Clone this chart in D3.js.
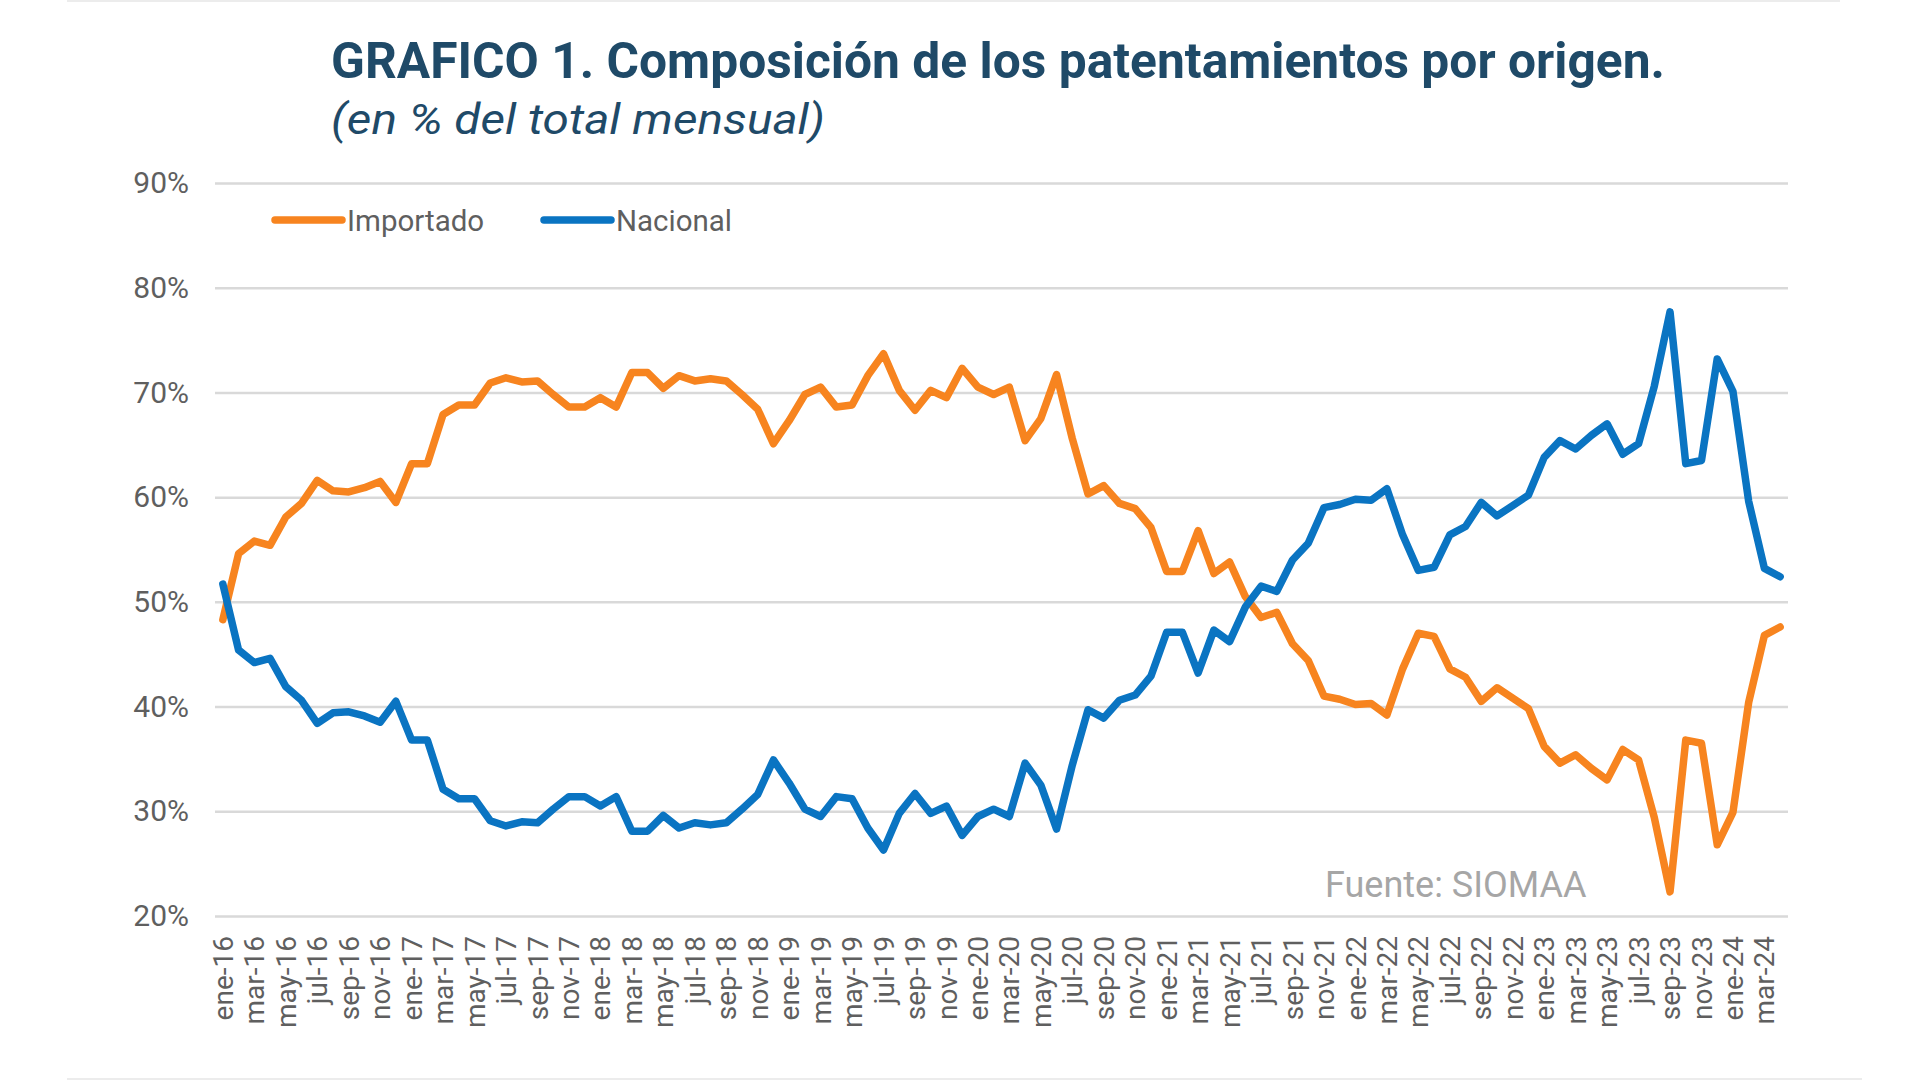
<!DOCTYPE html>
<html>
<head>
<meta charset="utf-8">
<script src="https://cdn.jsdelivr.net/npm/d3@7"></script>
<style>
  body { margin: 0; background: #fff; }
  svg { display: block; font-family: Roboto, "Noto Sans", sans-serif; }
</style>
</head>
<body>
<div id="chart"></div>
<script>
// meses ene-16 .. abr-24
const mesesNombre = ['ene','feb','mar','abr','may','jun','jul','ago','sep','oct','nov','dic'];
const anios = ['16','17','18','19','20','21','22','23','24'];
const meses = [];
anios.forEach(a => mesesNombre.forEach(m => meses.push(m + '-' + a)));
meses.splice(100); // hasta abr-24

const importado = [
  48.3, 54.6, 55.8, 55.4, 58.1, 59.4, 61.6, 60.6, 60.5, 60.9, 61.5, 59.5,
  63.2, 63.2, 67.9, 68.8, 68.8, 70.9, 71.4, 71.0, 71.1, 69.8, 68.6, 68.6,
  69.5, 68.6, 71.9, 71.9, 70.4, 71.6, 71.1, 71.3, 71.1, 69.8, 68.4, 65.1,
  67.3, 69.8, 70.5, 68.6, 68.8, 71.6, 73.7, 70.2, 68.3, 70.2, 69.5, 72.3,
  70.5, 69.8, 70.5, 65.4, 67.5, 71.7, 65.6, 60.3, 61.1, 59.4, 58.9, 57.1,
  52.9, 52.9, 56.8, 52.7, 53.8, 50.5, 48.5, 49.0, 46.0, 44.4, 41.0, 40.7,
  40.2, 40.3, 39.2, 43.6, 47.0, 46.7, 43.6, 42.8, 40.5, 41.8, 40.8, 39.8,
  36.2, 34.6, 35.4, 34.1, 33.0, 35.9, 34.9, 29.4, 22.3, 36.8, 36.5, 26.8,
  29.9, 40.4, 46.8, 47.6
];

const nacional = [
  51.7, 45.4, 44.2, 44.6, 41.9, 40.6, 38.4, 39.4, 39.5, 39.1, 38.5, 40.5,
  36.8, 36.8, 32.1, 31.2, 31.2, 29.1, 28.6, 29.0, 28.9, 30.2, 31.4, 31.4,
  30.5, 31.4, 28.1, 28.1, 29.6, 28.4, 28.9, 28.7, 28.9, 30.2, 31.6, 34.9,
  32.7, 30.2, 29.5, 31.4, 31.2, 28.4, 26.3, 29.8, 31.7, 29.8, 30.5, 27.7,
  29.5, 30.2, 29.5, 34.6, 32.5, 28.3, 34.4, 39.7, 38.9, 40.6, 41.1, 42.9,
  47.1, 47.1, 43.2, 47.3, 46.2, 49.5, 51.5, 51.0, 54.0, 55.6, 59.0, 59.3,
  59.8, 59.7, 60.8, 56.4, 53.0, 53.3, 56.4, 57.2, 59.5, 58.2, 59.2, 60.2,
  63.8, 65.4, 64.6, 65.9, 67.0, 64.1, 65.1, 70.6, 77.7, 63.2, 63.5, 73.2,
  70.1, 59.6, 53.2, 52.4
];

const yTicks = [20, 30, 40, 50, 60, 70, 80, 90];

const series = [
  { name: 'Importado', values: importado, color: '#f7841f' },
  { name: 'Nacional', values: nacional, color: '#0a74c2' }
];

const W = 1920, H = 1080;
const svg = d3.select('#chart').append('svg')
    .attr('width', W).attr('height', H);

// marco tenue de la imagen original
svg.append('line').attr('x1', 67).attr('x2', 1840).attr('y1', 1).attr('y2', 1)
    .attr('stroke', '#ececec').attr('stroke-width', 2);
svg.append('line').attr('x1', 67).attr('x2', 1862).attr('y1', 1079).attr('y2', 1079)
    .attr('stroke', '#ececec').attr('stroke-width', 2);

// titulos
svg.append('text')
    .attr('x', 331).attr('y', 78)
    .attr('font-size', 50).attr('font-weight', 700)
    .attr('fill', '#1f4a68')
    .attr('textLength', 1334).attr('lengthAdjust', 'spacingAndGlyphs')
    .text('GRAFICO 1. Composición de los patentamientos por origen.');

svg.append('text')
    .attr('x', 331).attr('y', 134)
    .attr('font-size', 42).attr('font-style', 'italic')
    .attr('fill', '#1f4a68')
    .attr('textLength', 494).attr('lengthAdjust', 'spacingAndGlyphs')
    .text('(en % del total mensual)');

const x = d3.scaleBand().domain(meses).range([215, 1788]);
const y = d3.scaleLinear().domain([20, 90]).range([916, 183]);

// grilla
const grid = svg.append('g')
    .attr('transform', 'translate(215,0)')
    .call(d3.axisLeft(y).tickValues(yTicks).tickSize(-(1788 - 215)).tickFormat(''));
grid.select('.domain').remove();
grid.selectAll('line').attr('stroke', '#d9d9d9').attr('stroke-width', 2.5);

// eje y
const yAxis = svg.append('g')
    .attr('transform', 'translate(189,0)')
    .call(d3.axisLeft(y).tickValues(yTicks).tickSize(0).tickPadding(0).tickFormat(d => d + '%'));
yAxis.select('.domain').remove();
yAxis.selectAll('text')
    .attr('font-family', 'Roboto, sans-serif')
    .attr('font-size', 30).attr('fill', '#5f5f5f');

// eje x
const xAxis = svg.append('g')
    .attr('transform', 'translate(0,916)')
    .call(d3.axisBottom(x).tickValues(meses.filter((d, i) => i % 2 === 0)).tickSize(0));
xAxis.select('.domain').remove();
xAxis.selectAll('text')
    .attr('font-family', 'Roboto, sans-serif')
    .attr('font-size', 28).attr('fill', '#5f5f5f')
    .attr('text-anchor', 'end')
    .attr('transform', 'rotate(-90)')
    .attr('x', -20).attr('y', 0).attr('dy', '0.36em');

// lineas
const line = d3.line()
    .x((d, i) => x(meses[i]) + x.bandwidth() / 2)
    .y(d => y(d))
    .curve(d3.curveLinear);

svg.append('g').selectAll('path')
    .data(series)
    .join('path')
    .attr('d', d => line(d.values))
    .attr('fill', 'none')
    .attr('stroke', d => d.color)
    .attr('stroke-width', 7.5)
    .attr('stroke-linejoin', 'round')
    .attr('stroke-linecap', 'round');

// leyenda
const leg = svg.append('g').selectAll('g')
    .data(series)
    .join('g')
    .attr('transform', (d, i) => 'translate(' + [275, 544][i] + ',220)');
leg.append('line')
    .attr('x1', 0).attr('x2', 67).attr('y1', 0).attr('y2', 0)
    .attr('stroke', d => d.color).attr('stroke-width', 7.5).attr('stroke-linecap', 'round');
leg.append('text')
    .attr('x', 72).attr('y', 0).attr('dy', '0.36em')
    .attr('font-size', 29.5).attr('fill', '#5f5f5f')
    .text(d => d.name);

// fuente
svg.append('text')
    .attr('x', 1325).attr('y', 897)
    .attr('font-size', 36).attr('fill', '#a6a6a6')
    .text('Fuente: SIOMAA');
</script>
</body>
</html>
